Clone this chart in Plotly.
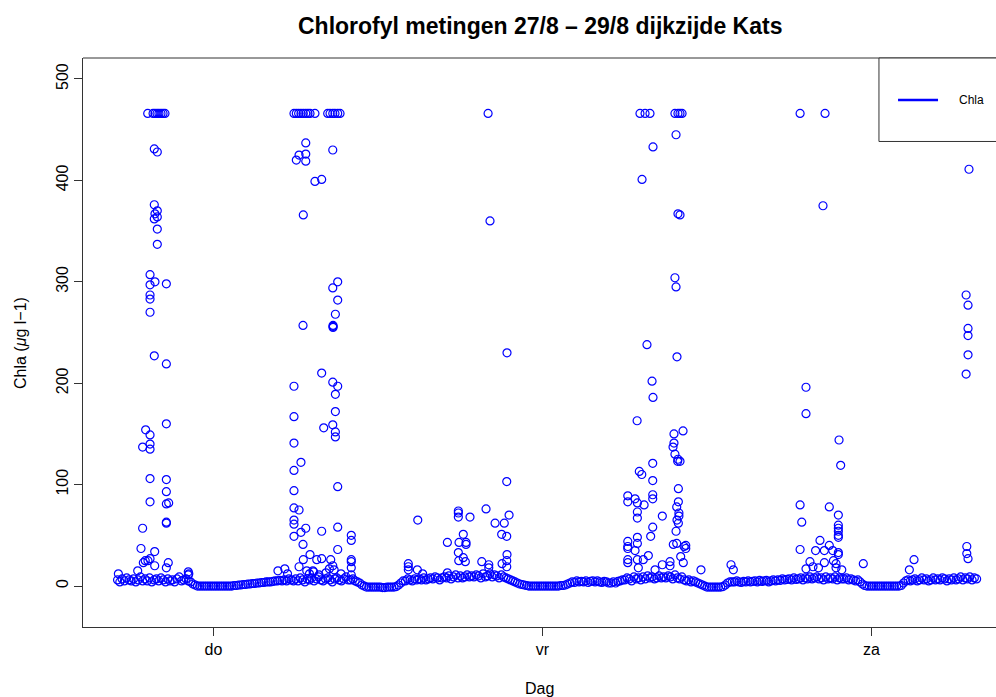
import plotly.graph_objects as go

# ---- data (hours since Thursday 00:00, Chla in ug/l) ----
tick_hours = [0, 24, 48]
tick_labels = ["do", "vr", "za"]

base_start = -7.0          # first sample hour
base_step = 1.0 / 6.0      # 10-minute samples
baseline = [
    6, 4, 7, 5, 8, 6,          # -7
    5, 7, 4, 6, 9, 5,          # -6
    7, 5, 8, 4, 6, 7,          # -5
    5, 8, 6, 4, 7, 5,          # -4
    6, 4, 7, 9, 5, 6,          # -3
    7, 5, 4, 2, 1, 0,          # -2
    0, 0, 0, 0, 0, 0,          # -1
    0, 0, 0, 0, 0, 0,          # 0
    0, 0, 0, 0.5, 0.5, 1,      # 1
    1, 1.5, 1.5, 2, 2, 2.5,    # 2
    2.5, 3, 3, 3.5, 3.5, 4,    # 3
    4, 4, 4.5, 5, 5, 5.5,      # 4
    5, 6, 5, 7, 6, 5,          # 5
    7, 5, 8, 6, 4, 7,          # 6
    6, 8, 5, 7, 9, 6,          # 7
    5, 7, 8, 6, 4, 7,          # 8
    8, 6, 5, 7, 9, 6,          # 9
    6, 7, 5, 4, 3, 1,          # 10
    0, -1, -1, -1, -1, -1,     # 11
    -1, -1, -1.5, -1.5, -1, -1,# 12
    -1, -1, -0.5, 1, 3, 5,     # 13
    5, 7, 6, 5, 7, 6,          # 14
    7, 6, 8, 6, 7, 8,          # 15
    7, 9, 8, 6, 8, 9,          # 16
    8, 10, 7, 9, 11, 8,        # 17
    10, 8, 9, 11, 9, 10,       # 18
    9, 11, 10, 8, 12, 9,       # 19
    10, 12, 9, 11, 10, 8,      # 20
    11, 9, 8, 7, 6, 5,         # 21
    4, 3, 2, 1.5, 1, 0.5,      # 22
    0, 0, 0, 0, 0, 0,          # 23
    0, 0, 0, 0, 0, 0,          # 24
    0, 0, 0.5, 0.5, 1, 2,      # 25
    3, 4, 3.5, 5, 4, 4.5,      # 26
    4, 5, 3.5, 4.5, 5, 4,      # 27
    5, 4, 3.5, 4.5, 4, 3,      # 28
    3, 4, 3, 4.5, 5, 6,        # 29
    6, 8, 7, 5, 9, 7,          # 30
    8, 6, 9, 7, 10, 8,         # 31
    9, 7, 8, 10, 8, 9,         # 32
    8, 10, 9, 7, 11, 8,        # 33
    7, 9, 6, 5, 6, 4,          # 34
    5, 4, 3, 2, 1, 0,          # 35
    -1, -1, -1, -1, -1, -1,    # 36
    -1, -0.5, 1, 3, 4, 4,      # 37
    4, 5, 4, 3.5, 4.5, 4,      # 38
    5, 4, 4.5, 5, 4, 5.5,      # 39
    4.5, 5, 5.5, 4, 5, 6,      # 40
    5, 6, 5.5, 7, 6, 6.5,      # 41
    7, 6, 8, 6.5, 7, 8,        # 42
    6, 8, 7, 9, 7, 8,          # 43
    9, 7, 8, 6, 9, 7,          # 44
    8, 7, 9, 6, 8, 7,          # 45
    7, 8, 6, 7, 6, 5,          # 46
    6, 4, 2, 0.5, 0, 0,        # 47
    0, 0, 0, 0, 0, 0,          # 48
    0, 0, 0, 0, 0, 0,          # 49
    0, 0.5, 3, 5, 6, 5,        # 50
    6, 7, 5, 6, 8, 6,          # 51
    7, 5, 6, 8, 6, 7,          # 52
    6, 8, 7, 5, 7, 6,          # 53
    8, 6, 7, 9, 6, 8,          # 54
    7, 9, 6, 8, 7,             # 55
]

# high readings, cluster A (Wednesday evening)
spikeA_hours = [-4.80, -4.41, -4.27, -4.12, -3.98, -3.83, -3.68, -3.54,
                -4.32, -4.10, -4.32, -4.10, -4.27, -4.10, -4.32, -4.10, -4.10,
                -4.63, -4.27, -4.63, -3.44, -4.63, -4.63, -4.63, -4.32, -3.44,
                -3.44, -4.95, -4.63, -4.63, -5.17, -4.63, -4.63, -3.44, -3.44,
                -4.63, -3.44, -3.27, -3.44, -3.44, -5.17, -5.29, -4.29, -4.63,
                -4.98, -5.12, -4.78, -4.29, -5.53, -6.94, -3.30, -3.44,
                -1.84, -1.84, -1.80]
spikeA_values = [466, 466, 466, 466, 466, 466, 466, 466,
                 431, 428, 376, 370, 367, 364, 362, 352, 337,
                 307, 300, 297, 298, 287, 283, 270, 227, 219,
                 160, 154, 149, 140, 137, 135, 106, 105, 93,
                 83, 81, 82, 63, 62, 57, 37, 34, 27,
                 25, 23, 25, 20, 15, 12, 23, 18,
                 14, 11, 12]

# cluster B (Thursday morning)
spikeB_hours = [5.87, 6.04, 6.21, 6.38, 6.55, 6.73, 6.89, 7.04, 7.40,
                8.33, 8.50, 8.70, 8.86, 9.06, 9.23,
                6.73, 6.24, 6.73, 6.04, 6.73, 8.70, 7.89, 7.40, 6.55,
                9.06, 8.70, 9.06, 8.89, 8.72, 8.72, 8.72, 6.53, 7.89, 8.70,
                9.06, 5.87, 8.89, 8.89, 8.70, 8.04, 8.89, 8.89, 5.87, 5.87,
                6.38, 5.87, 5.87, 9.06, 5.87, 6.24, 5.87, 5.87, 6.73, 6.38,
                7.89, 5.87, 9.06, 6.53, 9.06, 7.04, 7.53, 7.89, 6.55, 8.55,
                6.24, 6.80, 7.25, 8.45, 8.70, 10.05, 10.05, 10.05, 10.05,
                10.05, 10.05, 7.00, 7.30, 7.70, 8.20, 8.80, 9.30, 4.70, 5.20,
                5.40]
spikeB_values = [466, 466, 466, 466, 466, 466, 466, 466, 466,
                 466, 466, 466, 466, 466, 466,
                 437, 425, 426, 420, 419, 430, 401, 399, 366,
                 300, 294, 282, 268, 257, 256, 255, 257, 210, 201,
                 197, 197, 189, 172, 159, 156, 152, 147, 167, 141,
                 122, 114, 94, 98, 77, 75, 65, 61, 57, 53,
                 54, 49, 58, 41, 36, 31, 26, 27, 26, 26,
                 19, 15, 15, 17, 20, 50, 45, 26, 24,
                 18, 11, 12, 14, 11, 13, 16, 12, 15, 17,
                 12]

# cluster C (Thursday evening)
spikeC_hours = [14.90, 17.86, 17.86, 17.86, 18.71, 19.88, 21.39, 21.56, 20.54,
                21.21, 21.02, 21.39, 18.22, 17.06, 17.91, 18.42, 18.42, 17.86,
                18.22, 17.89, 18.37, 19.57, 20.08, 20.08, 21.41, 21.39, 21.39,
                21.05, 14.21, 14.21, 14.21, 14.87, 15.26, 17.06,
                20.03, 20.17, 21.41]
spikeC_values = [65, 74, 72, 68, 68, 76, 103, 70, 62,
                 62, 51, 49, 51, 43, 43, 43, 41, 33,
                 28, 25, 24, 24, 21, 18, 31, 25, 19,
                 22, 22, 19, 16, 16, 12, 13,
                 466, 360, 230]

# cluster D (Friday morning)
spikeD_hours = [31.11, 31.48, 31.84, 33.66, 33.88, 34.03, 34.18,
                33.74, 32.06, 31.26, 33.88, 34.03, 33.66, 33.74, 31.62, 33.81,
                31.99, 32.06, 30.90, 34.25, 33.59, 33.59, 33.52, 33.66, 33.88,
                34.03, 33.86, 32.04, 31.06, 31.24, 32.04, 33.91, 30.22, 30.22,
                30.75, 30.92, 31.41, 30.92, 30.92, 32.04, 32.04, 32.74, 32.04,
                31.89, 30.22, 30.22, 30.92, 30.92, 30.75, 30.22, 31.72, 31.35,
                30.92, 30.22, 30.22, 30.99, 32.21, 32.74, 33.30, 33.30, 33.54,
                33.79, 34.45, 34.45, 34.33, 33.91, 33.79, 33.95, 33.95, 33.81,
                33.91, 33.74, 34.08, 34.27]
spikeD_values = [466, 466, 466, 466, 466, 466, 466,
                 445, 433, 401, 367, 366, 304, 295, 238, 226,
                 202, 186, 163, 153, 150, 141, 137, 130, 125,
                 123, 123, 121, 113, 110, 104, 96, 89, 83,
                 86, 82, 80, 73, 67, 90, 86, 69, 58,
                 49, 44, 39, 48, 42, 35, 37, 30, 26,
                 26, 26, 23, 18, 16, 21, 24, 20, 41,
                 42, 40, 37, 39, 83, 78, 72, 69, 65,
                 62, 54, 29, 23]

# cluster E (Friday evening) and later readings
spikeE_hours = [42.79, 44.61, 44.46, 43.22, 43.22, 45.63, 45.75, 42.79, 44.92,
                45.58, 45.58, 45.58, 45.58, 45.58, 45.58, 42.91, 44.24, 42.79,
                44.92, 43.92, 44.56, 45.17, 45.58, 45.58, 47.40, 43.51, 44.56,
                45.22, 43.73, 43.22, 44.13, 45.41, 45.41, 45.83,
                51.10, 50.76, 37.75, 37.92, 35.56]
spikeE_values = [466, 466, 375, 196, 170, 144, 119, 80, 78,
                 70, 60, 57, 54, 50, 48, 63, 45, 36,
                 40, 35, 35, 35, 33, 31, 22, 24, 23,
                 25, 19, 17, 18, 22, 18, 16,
                 26, 16, 21, 16, 16]

# cluster F (Saturday morning)
spikeF_hours = [55.11, 54.90, 55.04, 55.04, 55.04, 55.04, 54.90, 54.95, 54.95, 55.04]
spikeF_values = [411, 287, 277, 254, 247, 228, 209, 39, 32, 27]

# ---- build figure ----
base_hours = [base_start + i * base_step for i in range(len(baseline))]
all_hours = (base_hours + spikeA_hours + spikeB_hours + spikeC_hours +
             spikeD_hours + spikeE_hours + spikeF_hours)
all_values = (baseline + spikeA_values + spikeB_values + spikeC_values +
              spikeD_values + spikeE_values + spikeF_values)

BLUE = "#0000FF"
FONT = "Liberation Sans, Arial, Helvetica, sans-serif"
AX = "#333333"

fig = go.Figure()
fig.add_trace(go.Scatter(
    x=all_hours, y=all_values, mode="markers", name="Chla",
    marker=dict(symbol="circle-open", size=8, color=BLUE,
                line=dict(color=BLUE, width=1.2)),
    showlegend=False, hoverinfo="x+y"))

fig.update_layout(
    width=996, height=697, autosize=False,
    margin=dict(l=83, r=0, t=58, b=70),
    paper_bgcolor="white", plot_bgcolor="white",
    font=dict(family=FONT, size=16, color="black"),
    xaxis=dict(range=[-9.52, 57.08], tickvals=tick_hours, ticktext=tick_labels,
               showgrid=False, zeroline=False, showline=True, linecolor=AX,
               linewidth=1, ticks="outside", ticklen=8, tickcolor=AX,
               tickfont=dict(size=16, family=FONT)),
    yaxis=dict(range=[-40.4, 520.7], tickvals=[0, 100, 200, 300, 400, 500],
               showgrid=False, zeroline=False, showline=True, linecolor=AX,
               linewidth=1, ticks="outside", ticklen=8, tickcolor=AX,
               tickangle=-90, tickfont=dict(size=16, family=FONT)),
    showlegend=False,
)

shapes = [
    # top frame line
    dict(type="line", xref="paper", yref="paper", x0=0, x1=1, y0=1, y1=1,
         line=dict(color=AX, width=1)),
    # legend box
    dict(type="rect", xref="paper", yref="paper", x0=0.8718, x1=1.05,
         y0=0.8533, y1=1, line=dict(color=AX, width=1), fillcolor="white"),
    dict(type="line", xref="paper", yref="paper", x0=0.8927, x1=0.9365,
         y0=0.9262, y1=0.9262, line=dict(color=BLUE, width=2.5)),
]
fig.update_layout(shapes=shapes)

fig.add_annotation(text="Chla", xref="paper", yref="paper", x=0.9573, y=0.9262,
                   xanchor="left", yanchor="middle", showarrow=False,
                   font=dict(size=12, family=FONT))
fig.add_annotation(text="<b>Chlorofyl metingen 27/8 \u2013 29/8 dijkzijde Kats</b>",
                   xref="paper", yref="paper", x=0.5, y=(627 - 26) / 569,
                   xanchor="center", yanchor="middle", showarrow=False,
                   font=dict(size=23, family=FONT))
fig.add_annotation(text="Dag", xref="paper", yref="paper", x=0.5, y=(627 - 688) / 569,
                   xanchor="center", yanchor="middle", showarrow=False,
                   font=dict(size=16, family=FONT))
fig.add_annotation(text="Chla (<i>\u03bc</i>g l\u22121)", xref="paper", yref="paper",
                   x=(20 - 83) / 913, y=(627 - 343) / 569, textangle=-90,
                   xanchor="center", yanchor="middle", showarrow=False,
                   font=dict(size=16, family=FONT))

fig.write_html("out.html")
